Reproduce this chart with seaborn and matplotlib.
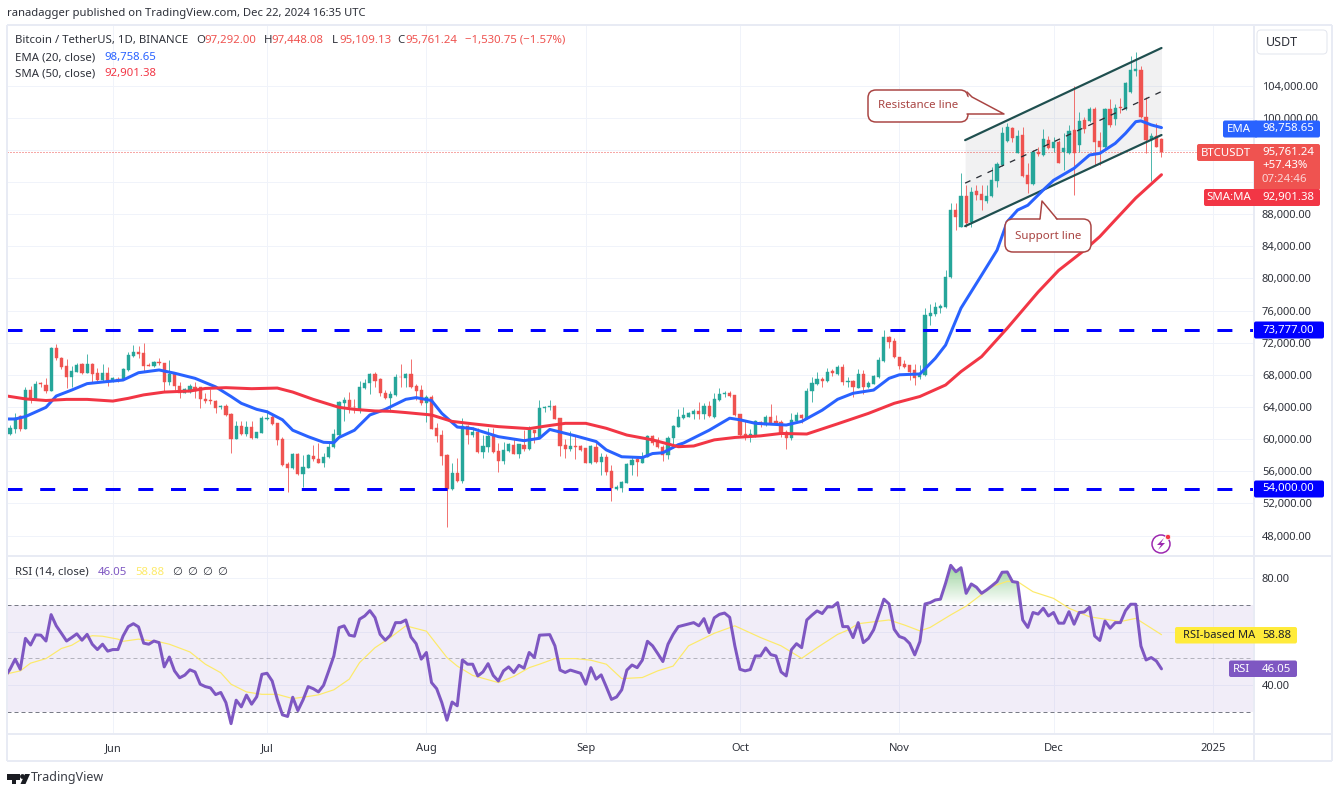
import numpy as np
import pandas as pd
import seaborn as sns
import matplotlib
matplotlib.use("Agg")
import matplotlib.pyplot as plt
import matplotlib.dates as mdates
from matplotlib.patches import FancyBboxPatch, Polygon, Circle
from matplotlib.path import Path
from matplotlib.colors import LinearSegmentedColormap

# daily candles from 2024-05-12, thousands of USDT
opens = [60.59,61.29,62.87,61.29,66.10,65.03,66.93,66.73,66.02,71.29,70.04,69.09,67.76,68.39,69.30,68.18,69.34,68.18,67.35,68.18,
67.35,67.47,67.43,68.59,70.33,70.87,70.67,69.26,69.09,69.55,69.42,67.14,68.26,66.60,65.77,65.90,66.52,66.44,64.98,64.86,
64.78,63.95,64.11,63.12,60.01,61.62,60.59,61.54,60.17,60.79,62.45,62.78,62.04,60.01,56.90,56.36,58.14,55.61,56.44,57.89,
57.48,57.06,57.73,58.97,60.50,64.54,64.87,64.04,63.71,66.40,66.94,68.10,67.44,65.78,65.08,65.49,67.77,67.56,68.10,66.61,
66.11,64.45,65.28,61.43,60.51,58.02,53.75,55.83,54.83,61.63,60.51,60.93,58.44,59.06,60.39,58.56,57.32,58.56,59.27,58.15,
59.27,58.73,61.13,60.22,63.91,64.04,64.12,62.59,59.27,58.73,59.14,59.14,58.85,56.99,59.06,57.19,57.82,56.07,53.75,53.88,
54.58,56.78,57.48,57.07,57.82,60.39,59.89,58.98,58.02,60.10,61.55,62.66,62.79,63.16,63.45,63.16,64.12,62.79,64.86,65.61,
65.73,65.44,63.08,60.63,60.42,60.42,62.17,61.75,62.70,62.21,62.12,60.92,60.09,62.29,63.00,62.58,65.94,66.81,67.48,67.23,
68.43,68.10,68.93,67.14,67.27,66.36,68.10,66.44,66.85,67.68,69.72,72.74,72.25,70.17,69.30,69.18,68.60,67.68,67.97,75.36,
75.56,76.27,76.40,80.21,88.51,86.44,90.29,87.06,90.83,90.50,89.63,90.29,92.16,94.11,97.14,98.76,95.65,97.80,92.87,91.70,
95.77,95.35,97.22,96.18,97.01,95.77,95.65,98.47,96.60,99.71,99.63,101.08,97.14,96.31,101.04,99.79,101.37,101.08,103.24,105.85,
105.93,100.04,97.22,97.72,97.29]
highs = [61.75,63.20,63.00,66.44,66.60,67.27,67.14,67.55,71.41,71.83,70.25,69.92,69.09,69.42,69.50,70.58,69.42,68.80,69.30,68.92,
67.68,67.76,68.80,70.87,71.70,71.58,71.91,69.42,69.75,70.04,69.42,69.84,68.38,67.14,66.31,66.85,67.14,66.52,65.69,66.19,
64.86,64.24,64.36,63.20,62.29,62.29,62.29,62.29,60.92,62.87,63.61,63.20,62.04,60.30,57.18,58.31,58.31,58.01,58.10,59.26,
59.47,58.31,59.47,61.21,64.78,65.28,65.90,64.95,67.27,67.44,68.19,68.31,67.56,66.11,66.03,68.10,69.35,68.27,69.93,66.86,
66.73,65.49,65.49,61.96,61.13,58.15,56.99,57.61,62.59,61.76,61.55,61.34,60.51,61.34,61.43,59.56,59.68,59.48,60.10,59.35,
61.13,61.63,61.13,64.87,64.12,64.87,64.25,62.59,59.97,61.01,60.39,59.27,58.85,59.27,59.48,58.23,58.15,56.78,54.29,54.79,
57.07,57.82,57.82,58.44,60.51,60.51,60.22,59.27,60.39,61.76,63.71,63.95,63.37,63.70,64.57,64.45,64.74,65.69,66.31,66.02,
65.94,65.49,63.12,62.29,61.30,62.37,62.29,62.95,64.37,63.04,62.37,61.13,63.20,63.41,63.12,66.31,67.77,68.39,67.77,68.80,
68.68,69.22,69.34,67.68,67.35,68.72,68.60,67.27,67.97,70.17,73.57,72.83,72.54,70.25,69.84,69.22,69.30,69.22,76.27,76.81,
77.10,76.81,81.04,89.34,89.42,93.07,91.62,91.40,91.62,91.62,91.62,93.90,94.52,98.88,99.30,98.88,98.47,98.80,94.32,95.98,
96.39,98.55,97.72,97.64,97.22,98.05,99.09,103.94,100.75,100.13,101.29,101.37,98.26,101.16,102.28,101.70,102.41,104.48,107.67,108.21,
106.43,102.61,98.13,99.38,97.45]
lows = [60.50,60.71,61.04,61.21,64.53,64.94,66.52,65.77,65.98,69.84,68.68,66.31,66.52,68.30,68.05,68.18,67.14,67.02,67.14,66.60,
67.14,67.14,67.35,68.51,70.25,70.04,68.38,69.09,69.01,69.21,65.98,66.73,66.10,65.07,65.69,65.77,65.07,63.90,64.53,64.36,
63.28,63.78,62.91,58.30,59.96,60.50,60.38,59.96,60.09,60.71,62.37,61.75,59.26,56.65,53.37,56.23,55.53,54.07,56.36,57.31,
56.98,56.48,57.60,58.84,60.30,62.30,63.29,63.21,63.21,66.20,65.61,66.53,65.37,64.95,63.42,65.37,66.53,66.44,66.40,64.87,
64.25,62.17,61.22,59.68,56.78,49.00,53.67,54.70,54.58,59.39,60.22,58.23,57.61,58.44,58.31,55.95,56.90,58.44,58.11,57.69,
58.52,58.65,59.56,60.10,63.42,63.62,62.46,57.90,57.69,58.56,57.53,58.52,56.99,56.90,57.07,55.53,55.53,52.34,53.67,53.46,
54.50,55.53,55.45,56.99,57.73,59.27,58.85,57.32,57.48,58.85,61.47,62.50,62.70,62.46,62.46,62.46,62.79,62.58,64.74,65.28,
65.28,62.91,60.38,59.88,59.68,60.30,61.54,61.67,61.88,61.83,60.30,58.81,59.88,62.25,61.96,62.46,64.66,66.73,66.52,67.14,
67.85,67.97,66.73,66.52,65.28,66.31,65.61,66.36,66.81,67.56,69.63,71.29,70.05,68.72,68.80,67.35,66.73,67.43,67.85,74.20,
75.36,75.65,76.31,80.00,86.02,86.35,86.44,86.44,89.75,88.51,89.34,90.17,91.41,93.99,97.01,97.01,95.56,92.66,90.58,91.62,
95.23,95.23,96.06,95.77,94.30,93.49,95.48,90.38,95.77,98.05,99.50,94.11,94.11,96.18,98.88,99.09,100.54,100.95,103.03,105.19,
99.92,95.65,92.16,96.31,95.11]
closes = [61.33,62.66,61.29,66.10,64.94,66.85,66.81,65.98,71.29,70.04,68.92,67.76,68.47,69.21,68.18,69.34,68.09,67.35,68.18,67.14,
67.56,67.35,68.68,70.46,70.87,70.58,69.13,69.13,69.55,69.42,67.14,68.09,66.60,65.77,66.19,66.60,66.02,64.94,64.73,64.73,
63.82,64.07,62.99,60.01,61.62,60.63,61.54,60.09,60.92,62.66,62.66,61.83,59.88,56.77,56.36,58.14,55.61,56.56,58.01,57.48,
57.06,57.81,59.05,60.63,64.65,64.87,63.96,63.96,66.44,67.02,68.10,67.27,65.78,65.08,65.61,67.69,67.69,68.10,66.53,66.03,
64.45,65.20,61.26,60.39,57.94,53.75,55.83,54.83,61.63,60.51,60.93,58.44,59.14,60.39,58.44,57.32,58.65,59.35,58.15,59.35,
58.73,61.13,60.80,63.83,64.04,64.16,62.55,59.14,58.77,59.14,59.02,58.65,57.07,59.14,57.19,57.82,55.95,53.88,54.00,54.71,
56.90,57.40,57.19,57.82,60.39,59.48,58.98,58.02,60.10,61.63,62.71,63.00,63.20,63.49,63.16,64.12,62.87,64.95,65.61,65.73,
65.36,62.98,60.51,60.42,60.63,62.29,61.88,62.70,62.04,62.04,60.71,60.09,62.37,63.00,62.58,66.02,66.94,67.48,67.27,68.30,
68.26,68.93,67.14,67.27,66.44,68.10,66.44,67.02,67.85,69.84,72.74,72.08,70.17,69.09,68.93,68.39,67.64,68.10,75.44,75.73,
76.40,76.56,80.21,88.51,87.68,90.29,86.85,90.79,90.38,89.75,90.29,92.24,94.19,98.13,98.88,97.43,97.72,92.78,91.75,95.77,
95.48,97.30,96.18,97.01,94.40,96.18,98.38,95.56,99.63,98.59,101.08,97.01,96.39,101.04,99.09,101.24,101.16,104.36,105.93,106.02,
100.04,97.22,97.72,96.39,95.76]

# moving averages: day number after 2024-05-11, price in thousands
ema_days = [0,2,4,8,10,13,16,19,23,26,30,33,37,41,44,46,49,51,54,56,59,62,64,65,68,71,74,78,80,83,85,88,91,96,101,104,106,111,115,117,120,124,126,128,131,
132,137,141,143,146,152,155,159,162,165,169,172,174,178,181,183,186,190,193,195,197,199,202,204,208,211,213,216,218,220,221,223,225]
ema_vals = [62.5,62.5,62.8,63.95,65.36,66.1,66.9,67.1,67.35,68.26,68.6,68.2,67.56,66.5,65.3,64.45,63.7,63.4,62.4,61.1,60.3,59.6,59.55,60.2,61.1,63.0,63.7,64.95,65.16,64.8,63.2,61.5,61.3,60.3,59.8,60.1,61.2,60.4,59.7,58.65,57.8,57.7,58.2,58.3,59.3,
59.5,61.1,62.6,62.4,61.96,61.75,62.2,63.6,64.95,65.7,66.1,67.56,68.0,68.1,70.05,71.7,76.3,80.4,83.5,87.06,88.5,89.1,91.0,92.2,93.7,95.35,95.56,96.8,98.05,99.5,99.6,99.1,98.76]
sma_days = [0,4,8,12,16,21,24,27,31,36,39,43,48,53,56,60,65,68,72,75,78,83,87,91,96,102,105,109,113,117,121,126,131,134,138,142,147,151,156,162,168,173,178,183,186,190,195,201,205,210,213,216,220,225]
sma_vals = [65.4,65.0,64.8,64.94,64.94,64.73,65.07,65.5,65.85,65.98,66.3,66.4,66.27,66.35,65.85,64.94,63.95,63.7,63.5,63.46,63.3,63.0,62.2,61.9,61.55,61.3,61.6,61.96,61.96,61.34,60.5,59.9,59.05,59.14,59.9,60.2,60.4,60.7,60.63,61.9,63.2,64.45,65.3,66.73,68.4,70.26,73.8,78.3,81.0,83.5,85.2,87.27,90.0,92.9]

# RSI per day, first value is 2024-05-11
rsi_vals = [43.0,45.9,49.7,45.9,57.5,55.0,58.8,58.7,56.5,66.4,62.2,59.4,56.5,57.8,59.2,56.8,59.0,55.3,53.3,55.3,52.7,53.3,53.3,58.4,61.9,63.0,61.8,55.7,55.3,56.5,55.9,
46.8,50.5,45.3,42.7,43.7,45.7,44.9,40.3,39.4,38.9,36.4,37.2,33.4,25.5,34.3,31.8,36.2,32.8,35.6,44.0,44.4,41.5,34.6,28.8,28.2,35.4,30.4,34.4,39.4,38.6,
37.4,39.9,45.3,50.9,61.5,62.2,58.7,58.3,64.7,65.9,67.9,65.3,59.0,56.8,58.7,63.4,63.4,64.4,58.0,55.5,49.7,52.2,40.9,38.6,33.4,26.8,33.6,32.2,49.4,47.8,47.8,
43.4,44.9,48.0,43.6,41.5,45.3,46.8,44.7,47.4,46.3,52.2,50.3,58.7,58.8,58.9,54.7,45.6,44.7,45.6,45.0,44.4,40.3,46.5,42.2,43.8,39.3,34.6,35.5,38.2,45.6,47.5,
46.5,49.3,56.4,54.7,51.8,48.8,55.3,59.0,61.9,62.4,62.9,63.4,62.2,64.9,59.7,65.2,66.5,67.0,65.4,54.7,45.9,45.3,45.8,50.9,50.9,53.9,51.4,50.9,44.9,43.4,53.2,
55.5,54.0,64.4,66.2,67.8,66.8,69.3,69.3,70.9,61.9,61.9,57.8,63.4,55.9,57.5,60.7,66.5,72.2,70.4,60.9,58.2,57.5,55.6,51.3,56.3,70.4,70.9,71.9,72.2,78.2,84.9,
82.5,84.0,74.4,77.9,76.7,74.4,75.7,77.2,78.8,82.3,82.4,78.8,78.5,64.4,61.6,67.2,66.6,68.8,65.9,67.2,63.2,63.2,67.5,62.8,67.2,67.4,69.2,58.4,56.7,64.0,61.3,
63.4,63.4,67.9,70.3,70.3,54.6,49.4,50.3,49.0,46.05]
rsi_ma_days = [0,3,5,8,11,13,15,17,19,22,23,26,30,32,36,39,42,44,47,50,53,56,59,61,64,67,69,72,75,78,82,86,88,91,96,99,102,104,107,111,114,117,120,124,127,130,133,138,142,147,151,155,158,162,164,166,172,175,178,180,184,187,192,195,197,200,204,207,211,217,220,225]
rsi_ma_vals = [44.0,45.3,48.2,49.9,53.7,54.9,57.2,58.5,58.3,57.2,56.4,57.2,56.2,55.3,52.4,47.8,44.6,40.3,37.4,36.5,36.5,34.9,35.7,36.3,38.2,42.2,48.4,54.0,57.8,62.2,60.2,50.3,47.1,43.6,40.9,43.2,46.5,47.8,49.9,49.9,49.3,47.8,42.4,42.8,45.3,47.1,54.7,59.4,62.2,57.8,54.7,50.0,54.0,59.0,60.6,63.0,64.4,62.5,60.3,61.6,66.3,69.6,76.9,78.9,78.8,75.0,72.5,68.8,65.6,63.8,65.0,58.88]

# rising channel, day numbers and thousands
channel_days = [186.8, 225]
channel_upper = [97.2, 108.67]
channel_middle = [91.85, 103.25]
channel_lower = [86.5, 97.84]

# dashed levels as they sit against the tick labels
level_lines = [73600, 53800]
price_ticks = [48,52,56,60,64,68,72,76,80,84,88,92,96,100,104]
hidden_price_ticks = [92,96]  # sit behind the price tags
rsi_ticks = [40,60,80]
month_ticks = ["2024-06-01","2024-07-01","2024-08-01","2024-09-01","2024-10-01","2024-11-01","2024-12-01","2025-01-01"]
month_labels = ["Jun","Jul","Aug","Sep","Oct","Nov","Dec","2025"]

UP = "#26a69a"
DOWN = "#ef5350"
BLUE = "#2962ff"
RED = "#f23645"
PURPLE = "#7e57c2"
GRID = "#f0f3fa"
BORDER = "#e8ebf4"
TEXT = "#2e313a"
W, H = 1337, 793
PX = 72 / 100

sns.set_theme(style="white")
plt.rcParams["font.family"] = ["Noto Sans", "DejaVu Sans"]

fig = plt.figure(figsize=(W / 100, H / 100), dpi=100, facecolor="white")
ax = fig.add_axes([7 / W, 1 - 556 / H, (1253 - 7) / W, (556 - 25) / H])
ax_rsi = fig.add_axes([7 / W, 1 - 733.5 / H, (1253 - 7) / W, (733.5 - 556) / H], sharex=ax)

day0 = pd.Timestamp("2024-05-11")
dates = day0 + pd.to_timedelta(np.arange(1, len(closes) + 1), unit="D")
to_date = lambda days: day0 + pd.to_timedelta(np.array(days, dtype=float), unit="D")
o, h, l, c = [np.array(a) * 1000 for a in (opens, highs, lows, closes)]
candle_colors = [UP if b >= a else DOWN for a, b in zip(o, c)]

# channel sits under the candles
ch_x = to_date(channel_days)
ax.fill_between(ch_x, np.array(channel_lower) * 1000, np.array(channel_upper) * 1000, color="#787b86", alpha=0.1, lw=0, zorder=1)

ax.vlines(dates, l, h, colors=candle_colors, lw=1 * PX, alpha=0.8, zorder=2)
ax.bar(dates, np.abs(c - o), bottom=np.minimum(o, c), width=0.62, color=candle_colors, edgecolor=candle_colors, lw=0.3, zorder=3)

ax.plot(ch_x, np.array(channel_upper) * 1000, color="#1f4f4f", lw=2.2 * PX, zorder=4)
ax.plot(ch_x, np.array(channel_lower) * 1000, color="#1f4f4f", lw=2.2 * PX, zorder=4)
ax.plot(ch_x, np.array(channel_middle) * 1000, color="#2b2f36", lw=1.3 * PX, dashes=(4.5, 5), zorder=4)

sns.lineplot(x=to_date(ema_days), y=np.array(ema_vals) * 1000, ax=ax, color=BLUE, lw=3 * PX, zorder=5)
sns.lineplot(x=to_date(sma_days), y=np.array(sma_vals) * 1000, ax=ax, color=RED, lw=3 * PX, zorder=5)

for level in level_lines:
    ax.axhline(level, color="#0000ff", lw=3 * PX, dashes=(5, 5.9), dash_capstyle="butt", zorder=4)
ax.axhline(closes[-1] * 1000 + 1.24, color=DOWN, lw=1 * PX, dashes=(1, 2), zorder=1.5)

ax.set_ylim(45450, 111530)
ax.set_yticks(np.array(price_ticks) * 1000)
ax.yaxis.set_major_formatter(lambda v, pos: "" if v / 1000 in hidden_price_ticks else f"{v:,.2f}")

# RSI pane
rsi_x = day0 + pd.to_timedelta(np.arange(len(rsi_vals)), unit="D")
rsi = np.array(rsi_vals)
ax_rsi.axhspan(30, 70, color=PURPLE, alpha=0.1, lw=0, zorder=1)
for level, alpha in ((70, 1), (50, 0.5), (30, 1)):
    ax_rsi.axhline(level, color="#787b86", alpha=alpha, lw=1 * PX, dashes=(4, 3), zorder=2)

# green shade above the 70 line, fading down
x_num = mdates.date2num(rsi_x)
shade = ax_rsi.fill_between(x_num, 70, rsi, where=rsi >= 70, interpolate=True, color="none", lw=0)
green_map = LinearSegmentedColormap.from_list("fade", [(0.3, 0.69, 0.31, 0.0), (0.3, 0.69, 0.31, 0.6)])
grad = ax_rsi.imshow(np.linspace(1, 0, 64).reshape(-1, 1), cmap=green_map, vmin=0, vmax=1, aspect="auto",
                     extent=[x_num[0], x_num[-1], 70, 86], zorder=2.5)
grad.set_clip_path(Path.make_compound_path(*shade.get_paths()), transform=ax_rsi.transData)

sns.lineplot(x=to_date(rsi_ma_days), y=rsi_ma_vals, ax=ax_rsi, color="#fdea6a", lw=1.2 * PX, zorder=4)
sns.lineplot(x=rsi_x, y=rsi, ax=ax_rsi, color=PURPLE, lw=3 * PX, zorder=5)
ax_rsi.set_ylim(21.8, 88.4)
ax_rsi.set_yticks(rsi_ticks)
ax_rsi.yaxis.set_major_formatter(lambda v, pos: "" if v == 60 else f"{v:.2f}")

ax.set_xlim(mdates.date2num(day0) + 0.416, mdates.date2num(day0) + 242.8)
tick_dates = pd.to_datetime(month_ticks)
for a in (ax, ax_rsi):
    a.set_facecolor("none")
    a.set_xlabel("")
    a.set_ylabel("")
    a.grid(True, color=GRID, lw=1 * PX, zorder=0)
    a.set_axisbelow(True)
    a.yaxis.tick_right()
    a.tick_params(axis="y", length=0, pad=6.4, labelsize=8, labelcolor=TEXT)
    a.tick_params(axis="x", length=0)
    for s in a.spines.values():
        s.set_visible(False)
ax_rsi.set_xticks(tick_dates)
ax_rsi.set_xticklabels(month_labels, fontsize=8, color=TEXT)
ax_rsi.tick_params(axis="x", pad=6.8)
ax_rsi.get_xticklabels()[-1].set_fontweight("bold")
ax.tick_params(axis="x", labelbottom=False)
for t in ax.get_yticklabels() + ax_rsi.get_yticklabels():
    t.set_horizontalalignment("left")

# pixel overlay for the TradingView furniture
over = fig.add_axes([0, 0, 1, 1], zorder=10)
over.set_xlim(0, W)
over.set_ylim(H, 0)
over.axis("off")
over.patch.set_alpha(0)

for (x0, y0, x1, y1) in [(6.5, 25, 1332, 25), (6.5, 761, 1332, 761), (6.5, 25, 6.5, 761), (1332, 25, 1332, 761),
                         (1254, 25, 1254, 761), (6.5, 556, 1332, 556), (6.5, 734, 1332, 734)]:
    over.plot([x0, x1], [y0, y1], color=BORDER, lw=2 * PX, zorder=1, solid_capstyle="butt")


def txt(x, y, s, color=TEXT, size=8.2, ha="left", **kw):
    return over.text(x, y, s, color=color, fontsize=size, ha=ha, va="center", zorder=6, **kw)


def box(x0, y0, x1, y1, color, edge="none", lw=0, rad=2, z=3):
    over.add_patch(FancyBboxPatch((x0 + rad, y0 + rad), x1 - x0 - 2 * rad, y1 - y0 - 2 * rad,
                                  boxstyle=f"round,pad={rad},rounding_size={rad}", fc=color, ec=edge, lw=lw, zorder=z))


txt(7, 13.5, "ranadagger published on TradingView.com, Dec 22, 2024 16:35 UTC", size=8.1)

txt(15, 40.5, "Bitcoin / TetherUS, 1D, BINANCE")
for x, letter, vx, val in [(196, "O", 204, "97,292.00"), (264, "H", 271, "97,448.08"),
                           (332, "L", 339, "95,109.13"), (397, "C", 405, "95,761.24")]:
    txt(x, 40.5, letter)
    txt(vx, 40.5, val, color=DOWN)
txt(465, 40.5, "\u22121,530.75 (\u22121.57%)", color=DOWN)
txt(15, 57.5, "EMA (20, close)")
txt(104, 57.5, "98,758.65", color=BLUE)
txt(15, 73.5, "SMA (50, close)")
txt(104, 73.5, "92,901.38", color=RED)
txt(15, 572.5, "RSI (14, close)")
txt(98, 572.5, "46.05", color=PURPLE)
txt(135, 572.5, "58.88", color="#fdea6a")
for x in (172, 187, 202, 217):
    txt(x, 572.5, "\u2205")

# USDT button
box(1257, 30, 1327, 54, "white", edge="#e3e6ee", lw=1 * PX, rad=4)
txt(1266, 42, "USDT", size=9)

# axis tags
box(1223, 120.5, 1258, 137.5, BLUE)
box(1254, 120.5, 1320, 137.5, BLUE)
txt(1239, 129, "EMA", color="white", ha="center", fontweight="medium")
txt(1262, 129, "98,758.65", color="white")

box(1197, 144, 1258, 161, DOWN)
box(1254, 144, 1320, 190, DOWN)
txt(1226, 153, "BTCUSDT", color="white", ha="center")
txt(1262, 152, "95,761.24", color="white")
txt(1262, 166, "+57.43%", color="white")
txt(1262, 180, "07:24:46", color="#fbd5d4")

box(1204, 189, 1258, 206, RED)
box(1254, 189, 1320, 206, RED)
txt(1229, 197.5, "SMA:MA", color="white", ha="center")
txt(1262, 197.5, "92,901.38", color="white")

for y, label in [(330, "73,777.00"), (489, "54,000.00")]:
    box(1254, y - 8.5, 1324, y + 8.5, "#0000ff")
    txt(1262, y, label, color="white")

box(1175, 627, 1297, 643.5, "#ffeb3b")
txt(1183, 635, "RSI-based MA", color="#1f2128", size=8)
txt(1262, 635, "58.88", color="#1f2128")
box(1229, 660.5, 1297, 677, PURPLE)
txt(1241.5, 669, "RSI", color="white", ha="center")
txt(1262, 669, "46.05", color="white")

# callouts
CALL = "#a94442"
box(868, 90, 968, 122, "white", edge=CALL, lw=1.5 * PX, rad=8, z=4)
over.add_patch(Polygon([(966, 96), (1004, 114), (966, 114)], closed=False, fc="white", ec="none", zorder=4.5))
over.plot([967, 972, 1004, 967], [92, 97, 114, 114], color=CALL, lw=1.5 * PX, zorder=4.6)
txt(918.5, 106, "Resistance line", color=CALL, ha="center", size=8.3)
box(1005, 219, 1091, 252, "white", edge=CALL, lw=1.5 * PX, rad=8, z=4)
over.add_patch(Polygon([(1040, 220.5), (1042, 201), (1057, 220.5)], closed=False, fc="white", ec="none", zorder=4.5))
over.plot([1040, 1042, 1057], [219, 201, 219], color=CALL, lw=1.5 * PX, zorder=4.6)
txt(1048, 236, "Support line", color=CALL, ha="center", size=8.3)

# lightning badge
over.add_patch(Circle((1161, 544), 9, fc="white", ec="#9c27b0", lw=1.5 * PX, zorder=5))
over.add_patch(Polygon([(1164, 538), (1157, 545), (1161, 545), (1158, 550), (1165, 543), (1161, 543)], fc="#9c27b0", ec="none", zorder=6))
over.add_patch(Circle((1168, 537), 2.6, fc=RED, ec="white", lw=0.5, zorder=7))

# logo
LOGO = "#1a1c22"
over.add_patch(Polygon([(7, 774), (19.5, 774), (19.5, 780), (16, 780), (16, 784), (12, 784), (12, 780), (7, 780)], fc=LOGO, ec="none"))
over.add_patch(Circle((22.5, 776.5), 2.4, fc=LOGO, ec="none"))
over.add_patch(Polygon([(30, 774), (25.5, 784), (20.5, 784), (25, 774)], fc=LOGO, ec="none"))
txt(31, 778, "TradingView", color="#3b3e46", size=9)

fig.savefig("out.png", dpi=100)
